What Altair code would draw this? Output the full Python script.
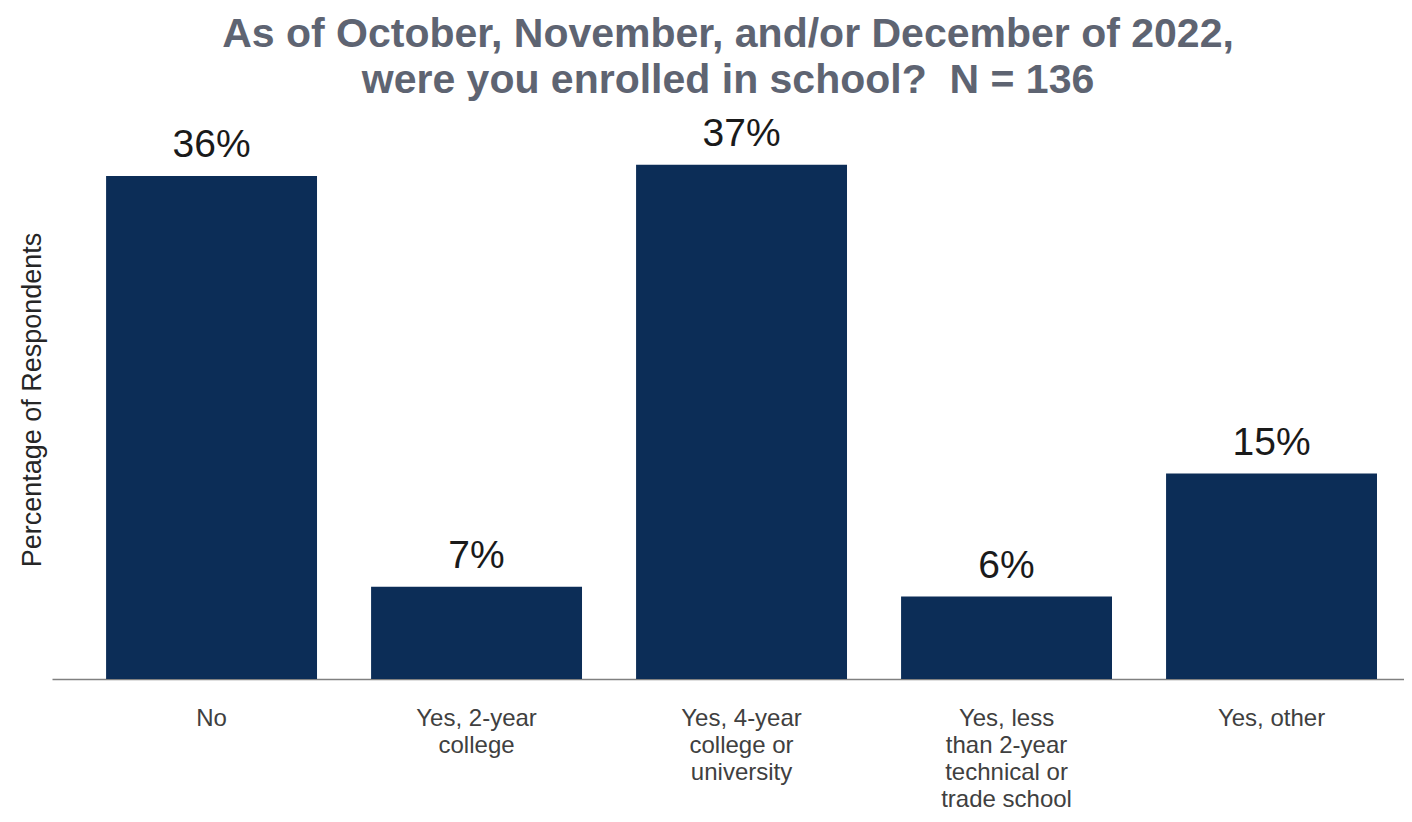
import altair as alt
import pandas as pd

categories = [
    "No",
    "Yes, 2-year\ncollege",
    "Yes, 4-year\ncollege or\nuniversity",
    "Yes, less\nthan 2-year\ntechnical or\ntrade school",
    "Yes, other",
]
percent = [36.0, 6.6, 36.8, 5.9, 14.7]
labels = ["36%", "7%", "37%", "6%", "15%"]

df = pd.DataFrame({"cat": categories, "pct": percent, "label": labels})

x = alt.X(
    "cat:N",
    sort=categories,
    scale=alt.Scale(paddingInner=0.204, paddingOuter=0.153, align=0.667),
    axis=alt.Axis(
        title=None,
        labelAngle=0,
        labelExpr="split(datum.label, '\\n')",
        labelFont="Liberation Sans",
        labelFontSize=24,
        labelLineHeight=27,
        labelColor="#404040",
        labelPadding=27,
        labelBaseline="top",
        ticks=False,
        domainColor="#808080",
        domainWidth=1.5,
        labelLimit=300,
    ),
)
y = alt.Y(
    "pct:Q",
    scale=alt.Scale(domain=[0, 40], nice=False),
    axis=alt.Axis(
        title="Percentage of Respondents",
        titleFont="Liberation Sans",
        titleFontSize=27,
        titleFontWeight="normal",
        titleColor="#262626",
        titlePadding=6,
        labels=False,
        ticks=False,
        domain=False,
        grid=False,
    ),
)

bars = alt.Chart(df).mark_bar(color="#0c2d57").encode(x=x, y=y)
text = alt.Chart(df).mark_text(
    baseline="bottom", dy=-11, font="Liberation Sans", fontSize=39, color="#1a1a1a"
).encode(x=alt.X("cat:N", sort=categories), y="pct:Q", text="label:N")

chart = (
    (bars + text)
    .properties(
        width=1352,
        height=559,
        padding={"left": 10, "top": 5, "right": 0, "bottom": 5},
        title=alt.TitleParams(
            text=["As of October, November, and/or December of 2022,", "were you enrolled in school?\u00a0 N = 136"],
            font="Liberation Sans",
            fontSize=41,
            fontWeight="bold",
            color="#5e6472",
            lineHeight=46,
            anchor="middle",
            offset=13,
        ),
    )
    .configure_view(stroke=None)
)

chart.save("out.html", embed_options={"renderer": "svg", "actions": False})
